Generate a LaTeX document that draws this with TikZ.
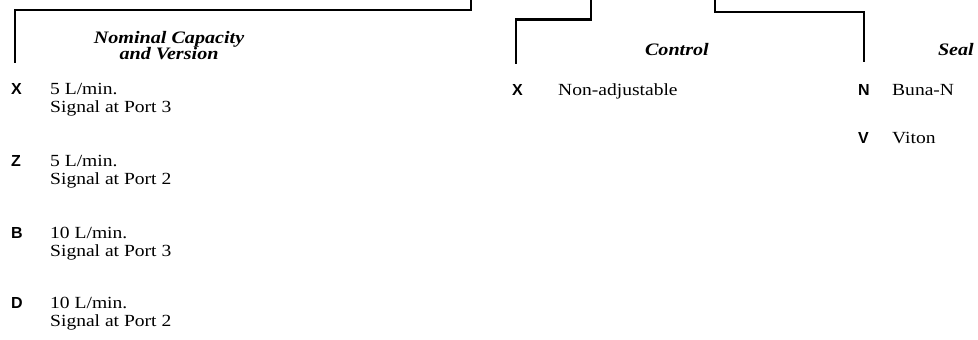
\documentclass[tikz,border=0pt]{standalone}
\usepackage{fontspec}
\setmainfont{Liberation Serif}[FakeStretch=1.15]
\newfontfamily\codefont{Liberation Sans}
\begin{document}
\begin{tikzpicture}[x=1pt,y=-1pt,
  code/.style={font=\codefont\bfseries\fontsize{16}{18}\selectfont, inner sep=0pt, anchor=base west},
  txt/.style={font=\fontsize{17}{18}\selectfont, inner sep=0pt, anchor=base west},
  head/.style={font=\bfseries\itshape\fontsize{17.5}{18}\selectfont, inner sep=0pt},
  bracket/.style={line width=2.8pt, line cap=butt, line join=miter}]
\useasboundingbox (0,0) rectangle (978,340);
% connector end points
\coordinate (a0) at (471,-3);
\coordinate (a1) at (15,63);
\coordinate (b0) at (591,-3);
\coordinate (b1) at (516,64);
\coordinate (c0) at (715,-3);
\coordinate (c1) at (864,62);
\draw[bracket] (a0) -- ++(0,13) -| (a1);
\draw[bracket] (b0) -- ++(0,22.5) -| (b1);
\draw[bracket] (c0) -- ++(0,15) -| (c1);
% headers
\node[head, anchor=base] (hNom1) at (169,43) {Nominal Capacity};
\node[head, anchor=base] (hNom2) at (169,59) {and Version};
\node[head, anchor=base east] (hCtrl) at (709,56) {Control};
\node[head, anchor=base east] (hSeal) at (974,56) {Seal};
% nominal capacity entries
\node[code] (cX) at (11,94) {X};
\node[txt] (tX1) at (50,94) {5 L/min.};
\node[txt] (tX2) at (50,112) {Signal at Port 3};
\node[code] (cZ) at (11,166) {Z};
\node[txt] (tZ1) at (50,166) {5 L/min.};
\node[txt] (tZ2) at (50,184) {Signal at Port 2};
\node[code] (cB) at (11,238) {B};
\node[txt] (tB1) at (50,238) {10 L/min.};
\node[txt] (tB2) at (50,256) {Signal at Port 3};
\node[code] (cD) at (11,308) {D};
\node[txt] (tD1) at (50,308) {10 L/min.};
\node[txt] (tD2) at (50,326) {Signal at Port 2};
% control entries
\node[code] (cCX) at (512,95) {X};
\node[txt] (tCX) at (558,95) {Non-adjustable};
% seal entries
\node[code] (cN) at (858,95) {N};
\node[txt] (tN) at (892,95) {Buna-N};
\node[code] (cV) at (858,143) {V};
\node[txt] (tV) at (892,143) {Viton};
\end{tikzpicture}
\end{document}
